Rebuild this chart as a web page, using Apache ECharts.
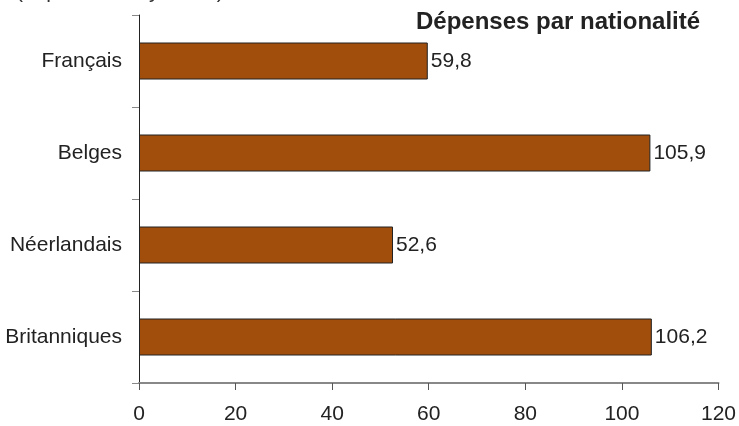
<!DOCTYPE html>
<html lang="fr">
<head>
<meta charset="UTF-8">
<title>Dépenses par nationalité</title>
<script src="https://cdn.jsdelivr.net/npm/echarts@6/dist/echarts.min.js"></script>
<style>
  html, body { margin: 0; padding: 0; background: #fff; }
  #chart { width: 739px; height: 426px; }
</style>
</head>
<body>
<div id="chart"></div>
<script>
var nationalites = ['Français', 'Belges', 'Néerlandais', 'Britanniques'];
var depenses = [59.8, 105.9, 52.6, 106.2];
var xTicks = [0, 20, 40, 60, 80, 100, 120];

var font = 'Liberation Sans, Arial, sans-serif';
var chart = echarts.init(document.getElementById('chart'));

chart.setOption({
    animation: false,
    textStyle: { fontFamily: font },
    graphic: [
        {
            type: 'text', left: 16, top: -18,
            style: { text: '(dépenses moyennes)', font: '21px ' + font, fill: '#333' }
        },
        {
            type: 'text', left: 416, top: 10,
            style: { text: 'Dépenses par nationalité', font: 'bold 24px ' + font, fill: '#222' }
        }
    ],
    grid: { left: 139, right: 18, top: 15, bottom: 43 },
    xAxis: {
        type: 'value',
        min: xTicks[0],
        max: xTicks[xTicks.length - 1],
        interval: 20,
        axisLine: { show: true, lineStyle: { color: '#888', width: 2 } },
        axisTick: { show: true, length: 7, lineStyle: { color: '#555' } },
        splitLine: { show: false },
        axisLabel: { fontSize: 21, color: '#222', margin: 21 }
    },
    yAxis: {
        type: 'category',
        inverse: true,
        data: nationalites,
        axisLine: { show: true, lineStyle: { color: '#222', width: 1 } },
        axisTick: { show: true, length: 7, lineStyle: { color: '#888' } },
        axisLabel: { fontSize: 21, color: '#222', margin: 17 }
    },
    series: [{
        type: 'bar',
        data: depenses,
        barWidth: 37,
        itemStyle: { color: '#A14E0C', borderColor: '#222', borderWidth: 1 },
        label: {
            show: true,
            position: 'right',
            distance: 3,
            fontSize: 21,
            color: '#222',
            formatter: function (p) { return String(p.value).replace('.', ','); }
        }
    }]
});
</script>
</body>
</html>
